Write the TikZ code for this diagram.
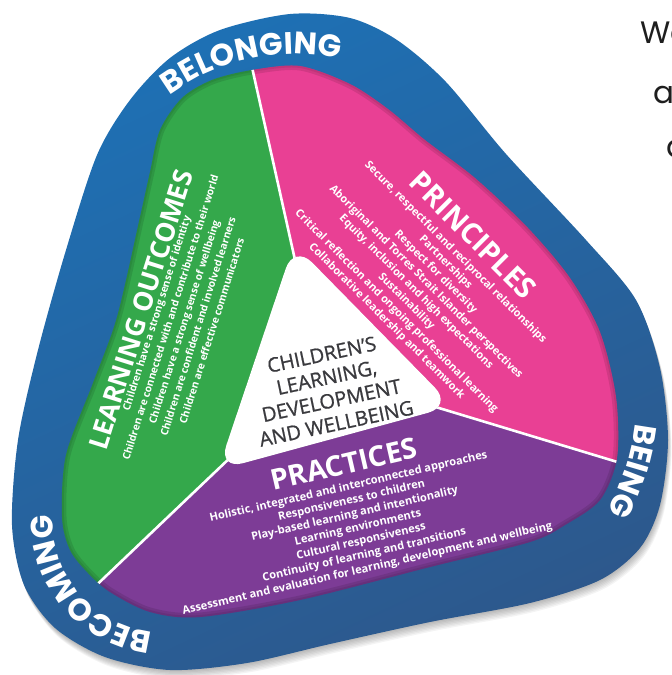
\documentclass[tikz,border=0pt]{standalone}
\usepackage{fontspec}
\setmainfont{Open Sans}
\newfontfamily\geofont{Poppins}
\newfontfamily\centrefont{Open Sans}[RawFeature={embolden=0.9}]
\usetikzlibrary{decorations.text}

\definecolor{bandlight}{RGB}{30,112,180}
\definecolor{banddark}{RGB}{45,88,140}
\definecolor{outcomegreen}{RGB}{52,168,75}
\definecolor{principlepink}{RGB}{233,64,148}
\definecolor{practicepurple}{RGB}{125,60,150}
\definecolor{centreink}{RGB}{58,58,62}
\definecolor{sideink}{RGB}{30,30,30}

\newcommand\bandletters{\geofont\bfseries\fontsize{31}{31}\selectfont}

% outer edge of the blue band
\newcommand\bandoutline{plot[smooth cycle,tension=0.5] coordinates {
  (97,155) (130,100) (170,58) (220,30) (290,14) (350,18) (397,40)
  (446,82) (506,154) (586,240) (636,300) (660,368) (668,440) (660,505)
  (640,548) (600,580) (530,603) (430,622) (330,644) (247,663) (170,670)
  (105,657) (55,628) (24,585) (12,525) (18,440) (38,350) (66,250)}}

% edge of the three coloured sectors
\newcommand\sectoroutline{plot[smooth cycle,tension=0.5] coordinates {
  (252,70) (300,66) (350,84) (388,109) (425,140) (475,178) (528,228)
  (570,278) (600,332) (616,397) (617,458) (600,500) (565,525) (530,542)
  (430,567) (300,600) (200,617) (150,612) (110,592) (88,573) (70,550)
  (62,517) (66,455) (93,383) (117,317) (140,217) (150,172) (160,130)
  (182,98) (212,80)}}

\begin{document}
\begin{tikzpicture}[x=1pt,y=-1pt,
  heading/.style={text=white,inner sep=0pt,font=\bfseries\fontsize{#1}{#1}\selectfont},
  outcomelist/.style={text=white,align=center,inner sep=0pt,font=\bfseries\fontsize{10.3}{14.5}\selectfont},
  principlelist/.style={text=white,align=center,inner sep=0pt,font=\bfseries\fontsize{10.9}{13.9}\selectfont},
  practicelist/.style={text=white,align=center,inner sep=0pt,font=\bfseries\fontsize{11.1}{14}\selectfont},
  divider/.style={white,line width=2.6pt},
  bandlabel/.style={decorate,decoration={text along path,text align=center,
      text color=white,text={|\bandletters|#1}}},
  sidetext/.style={anchor=base west,inner sep=0pt,text=sideink,
      font=\geofont\fontsize{31}{31}\selectfont},
]
\useasboundingbox (0,0) rectangle (672,675);
\clip (0,0) rectangle (672,675);

% soft shadow under the whole badge
\foreach \d in {1,...,7}
  \fill[black,opacity=0.045,shift={(\d*0.5,\d*1.3)}] \bandoutline;

% blue band
\shade[top color=bandlight,bottom color=banddark,shading angle=25] \bandoutline;

% sector geometry
\coordinate (C) at (320,372);
\coordinate (F1) at (237,0);
\coordinate (F2) at (700,487);
\coordinate (F3) at (-24,700);

\begin{scope}
  \clip \sectoroutline;
  \fill[outcomegreen] (C) -- (F1) -- (-50,0) -- (-50,700) -- (F3) -- cycle;
  \fill[principlepink] (C) -- (F1) -- (700,0) -- (F2) -- cycle;
  \fill[practicepurple] (C) -- (F2) -- (700,700) -- (F3) -- cycle;
  % slight darkening where the sectors meet the band
  \draw[black,opacity=0.10,line width=9pt] \sectoroutline;
  \draw[black,opacity=0.08,line width=4pt] \sectoroutline;
  \draw[divider] (C) -- (F1);
  \draw[divider] (C) -- (F2);
  \draw[divider] (C) -- (F3);
\end{scope}

% centre triangle
\coordinate (TA) at (294,244);
\coordinate (TB) at (218,470);
\coordinate (TC) at (453,406);
\fill[black,opacity=0.18,rounded corners=26pt,shift={(2,4)}] (TA) -- (TB) -- (TC) -- cycle;
\fill[white,rounded corners=26pt] (TA) -- (TB) -- (TC) -- cycle;

\node[text=centreink,align=center,inner sep=0pt,rotate=12,
      font=\centrefont\fontsize{20}{23.5}\selectfont] (centre) at (329,389)
  {CHILDREN’S\\LEARNING,\\DEVELOPMENT\\AND WELLBEING};

% learning outcomes
\node[heading=26.5,rotate=72.5] (outcomes) at (141,310) {LEARNING OUTCOMES};
\node[outcomelist,rotate=72.5] (outcomeitems) at (184,322)
  {Children have a strong sense of identity\\
   Children are connected with and contribute to their world\\
   Children have a strong sense of wellbeing\\
   Children are confident and involved learners\\
   Children are effective communicators};

% principles
\node[heading=29,rotate=-45] (principles) at (473,235) {PRINCIPLES};
\node[principlelist,rotate=-45] (principleitems) at (421,287)
  {Secure, respectful and reciprocal relationships\\
   Partnerships\\
   Respect for diversity\\
   Aboriginal and Torres Strait Islander perspectives\\
   Equity, inclusion and high expectations\\
   Sustainability\\
   Critical reflection and ongoing professional learning\\
   Collaborative leadership and teamwork};

% practices
\node[heading=28.5,rotate=13] (practices) at (344,464) {PRACTICES};
\node[practicelist,rotate=13] (practiceitems) at (358,528)
  {Holistic, integrated and interconnected approaches\\
   Responsiveness to children\\
   Play-based learning and intentionality\\
   Learning environments\\
   Cultural responsiveness\\
   Continuity of learning and transitions\\
   Assessment and evaluation for learning, development and wellbeing};

% words in the band
\path[bandlabel=BELONGING] plot[domain=150:54,samples=50] ({294+208*cos(\x)},{262-208*sin(\x)});
\path[bandlabel=BEING] plot[domain=12:-48,samples=40] ({401+236*cos(\x)},{396-236*sin(\x)});
\path[bandlabel=BECOMING] plot[domain=270:171,samples=50] ({163+110*cos(\x)},{522-110*sin(\x)});

% text running beside the badge
\node[sidetext] (sideA) at (640,43) {We};
\node[sidetext] (sideB) at (653,103) {a};
\node[sidetext] (sideC) at (666,157) {a};
\end{tikzpicture}
\end{document}
